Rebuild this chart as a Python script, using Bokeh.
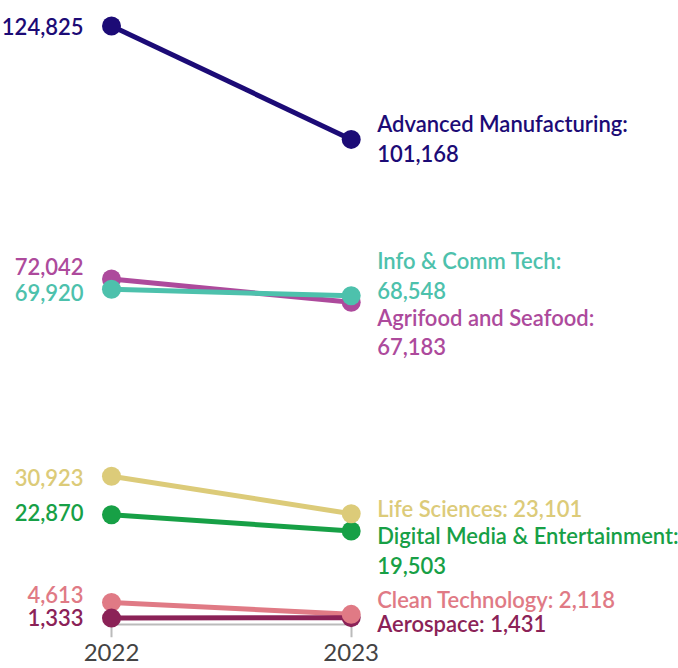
from bokeh.plotting import figure
from bokeh.models import ColumnDataSource, FixedTicker, Range1d, LabelSet, LinearAxis
from bokeh.core.properties import value
from bokeh.embed import file_html
from bokeh.resources import INLINE

# ---- data ----
years = [2022, 2023]
sectors = ["Advanced Manufacturing", "Agrifood and Seafood", "Info & Comm Tech",
           "Digital Media & Entertainment", "Life Sciences", "Clean Technology", "Aerospace"]
v2022 = [124825, 72042, 69920, 22870, 30923, 4613, 1333]
v2023 = [101168, 67183, 68548, 19503, 23101, 2118, 1431]
year_labels = ["2022", "2023"]

# ---- styles ----
colors = ["#1c0b76", "#ad4a9c", "#4dc1ac", "#17a046", "#dccb79", "#e07a85", "#8b2257"]
wrap = [True, True, True, True, False, False, False]
# baseline nudges (px, downward) of labels relative to their dot
left_dy = [9.5, -4.3, 11.3, 6.4, 9.3, 0.8, 7.4]
right_dy = [(-7.4, 23.1), (24.1, 53.1), (-27.3, 2.7), (13.5, 43.0), (2.8,), (-6.8,), (13.9,)]
# drawing order of the dots for each year (last is on top)
order_2022 = [0, 1, 2, 4, 3, 5, 6]
order_2023 = [0, 1, 2, 3, 4, 6, 5]

FONT = "Lato Semibold"
LBL_SIZE = "22px"

W, H = 678, 668
ZERO_PX = 624          # pixel row of the value 0 (baseline)
FH = 637               # frame height (leaves room for the lowest labels)
PX_PER_YEAR = 239.7
PX_PER_UNIT = 0.004795
x0 = 2022 - 111 / PX_PER_YEAR
xr = Range1d(x0, x0 + W / PX_PER_YEAR)
yr = Range1d(-(FH - ZERO_PX) / PX_PER_UNIT, ZERO_PX / PX_PER_UNIT)

p = figure(width=W, height=H, x_range=xr, y_range=yr,
           output_backend="svg", toolbar_location=None, y_axis_location=None,
           min_border_left=0, min_border_right=0, min_border_top=0, min_border_bottom=H - FH)
p.outline_line_color = None
p.grid.visible = False
p.background_fill_color = "white"
p.border_fill_color = "white"

# axis that only draws the tick marks, beneath the dots
tick_ax = p.xaxis[0]
tick_ax.level = "underlay"
tick_ax.ticker = FixedTicker(ticks=years)
tick_ax.axis_line_color = None
tick_ax.major_tick_line_color = "#bbbbbb"
tick_ax.major_tick_line_width = 2
tick_ax.major_tick_in = FH - ZERO_PX + 4
tick_ax.major_tick_out = 0
tick_ax.minor_tick_line_color = None
tick_ax.major_label_standoff = 0
tick_ax.major_label_text_font_size = "0px"
tick_ax.major_label_text_color = None

# axis that only draws the year labels
lab_ax = LinearAxis(ticker=FixedTicker(ticks=years),
                    major_label_overrides={y: s for y, s in zip(years, year_labels)},
                    axis_line_color=None, major_tick_line_color=None, minor_tick_line_color=None,
                    major_tick_in=0, major_tick_out=0, major_label_standoff=6,
                    major_label_text_font="Lato", major_label_text_font_size="24px",
                    major_label_text_color="#444444")
p.add_layout(lab_ax, "below")

# baseline between the two years
p.segment(x0=[years[0]], y0=[0], x1=[years[1]], y1=[0], line_color="#bbbbbb", line_width=2)

# lines
for i in range(len(sectors)):
    p.line(years, [v2022[i], v2023[i]], line_color=colors[i], line_width=5)

# dots
for yr_idx, order, vals in ((0, order_2022, v2022), (1, order_2023, v2023)):
    for i in order:
        p.scatter([years[yr_idx]], [vals[i]], size=19, fill_color=colors[i], line_color=None)

# labels
lx, ly, lt, lc, lxo, lyo, la = [], [], [], [], [], [], []
for i, name in enumerate(sectors):
    lx.append(years[0]); ly.append(v2022[i]); lt.append(f"{v2022[i]:,}")
    lc.append(colors[i]); lxo.append(-28); lyo.append(-left_dy[i]); la.append("right")
    if wrap[i]:
        lines = [f"{name}:", f"{v2023[i]:,}"]
    else:
        lines = [f"{name}: {v2023[i]:,}"]
    for ln, dy in zip(lines, right_dy[i]):
        lx.append(years[1]); ly.append(v2023[i]); lt.append(ln)
        lc.append(colors[i]); lxo.append(26); lyo.append(-dy); la.append("left")

lsrc = ColumnDataSource(dict(x=lx, y=ly, text=lt, color=lc, xo=lxo, yo=lyo, align=la))
labels = LabelSet(x="x", y="y", text="text", source=lsrc, x_offset="xo", y_offset="yo",
                  text_align="align", text_baseline="alphabetic", text_color="color",
                  text_font=value(FONT), text_font_size=LBL_SIZE)
p.add_layout(labels)

open("out.html", "w").write(file_html(p, INLINE))
